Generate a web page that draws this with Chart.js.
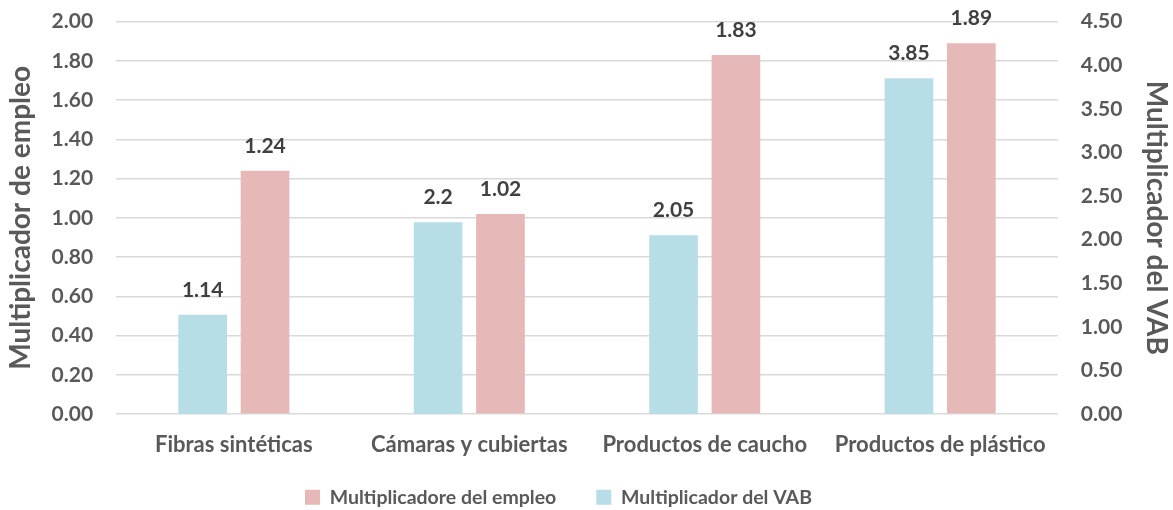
<!DOCTYPE html>
<html>
<head>
<meta charset="utf-8">
<script src="https://cdn.jsdelivr.net/npm/chart.js@4/dist/chart.umd.min.js"></script>
<style>
    html, body { margin: 0; padding: 0; background: #fff; }
    #wrap { width: 1173px; height: 510px; }
</style>
</head>
<body>
<div id="wrap"><canvas id="chart" width="1173" height="510"></canvas></div>
<script>
// Data
var categories = ["Fibras sintéticas", "Cámaras y cubiertas", "Productos de caucho", "Productos de plástico"];
var vabValues = [1.14, 2.2, 2.05, 3.85];
var empleoValues = [1.24, 1.02, 1.83, 1.89];

var fontFamily = "Lato, 'Open Sans', sans-serif";
var textColor = "#595959";

// Value labels above bars
var barLabels = {
    id: "barLabels",
    afterDatasetsDraw: function (chart) {
        var ctx = chart.ctx;
        ctx.save();
        ctx.font = "bold 21px " + fontFamily;
        ctx.fillStyle = "#404040";
        ctx.textAlign = "center";
        ctx.textBaseline = "alphabetic";
        chart.data.datasets.forEach(function (ds, i) {
            var meta = chart.getDatasetMeta(i);
            meta.data.forEach(function (bar, j) {
                ctx.fillText(String(ds.data[j]), bar.x, bar.y - 18);
            });
        });
        ctx.restore();
    }
};

// Legend keeps wide spacing between items but takes less height,
// and sits a bit left of centre like the original
var legendShrink = 28, legendLift = 21, legendLeft = 56;
var legendFit = {
    id: "legendFit",
    beforeUpdate: function (chart) {
        var lg = chart.legend;
        if (lg && !lg._patched) {
            var origFit = lg.fit, origDraw = lg.draw;
            lg.fit = function () {
                origFit.call(this);
                this.height -= legendShrink;
            };
            lg.draw = function () {
                var top = this.top, h = this.height, left = this.left, w = this.width;
                this.top = top - legendLift;
                this.height = h + legendLift;
                this.left = left - legendLeft;
                this.width = w + legendLeft;
                origDraw.call(this);
                this.top = top;
                this.height = h;
                this.left = left;
                this.width = w;
            };
            lg._patched = true;
        }
    }
};

var ctx = document.getElementById("chart").getContext("2d");
var myChart = new Chart(ctx, {
    type: "bar",
    data: {
        labels: categories,
        datasets: [{
                label: "Multiplicador del VAB",
                data: vabValues,
                backgroundColor: "#b7dde7",
                yAxisID: "y1"
            },
            {
                label: "Multiplicadore del empleo",
                data: empleoValues,
                backgroundColor: "#e6b8b7",
                yAxisID: "y"
            }
        ]
    },
    options: {
        responsive: false,
        animation: false,
        categoryPercentage: 0.53,
        barPercentage: 0.78,
        layout: { padding: 0 },
        plugins: {
            tooltip: { enabled: false },
            legend: {
                position: "bottom",
                reverse: true,
                labels: {
                    color: textColor,
                    font: { family: fontFamily, size: 19.5, weight: "bold" },
                    boxWidth: 15,
                    boxHeight: 15,
                    padding: 40
                }
            }
        },
        scales: {
            x: {
                grid: { display: false },
                border: { display: false },
                ticks: {
                    color: textColor,
                    font: { family: fontFamily, size: 22, weight: "bold" },
                    padding: 10
                }
            },
            y: {
                position: "left",
                min: 0,
                max: 2,
                border: { display: false },
                grid: { color: "#d9d9d9", lineWidth: 1.5, drawTicks: true, tickLength: 14, tickColor: "rgba(0,0,0,0)" },
                ticks: {
                    stepSize: 0.2,
                    color: textColor,
                    font: { family: fontFamily, size: 21, weight: "bold" },
                    padding: 9,
                    callback: function (v) { return v.toFixed(2); }
                },
                title: {
                    display: true,
                    text: "Multiplicador de empleo",
                    color: textColor,
                    padding: { top: 4, bottom: 5 },
                    font: { family: fontFamily, size: 28, weight: "bold" }
                }
            },
            y1: {
                position: "right",
                min: 0,
                max: 4.5,
                border: { display: false },
                grid: { display: false, drawTicks: true, tickLength: 14 },
                ticks: {
                    stepSize: 0.5,
                    color: textColor,
                    font: { family: fontFamily, size: 21, weight: "bold" },
                    padding: 9,
                    callback: function (v) { return v.toFixed(2); }
                },
                title: {
                    display: true,
                    text: "Multiplicador del VAB",
                    color: textColor,
                    padding: { top: 0, bottom: 8 },
                    font: { family: fontFamily, size: 28, weight: "bold" }
                }
            }
        }
    },
    plugins: [barLabels, legendFit]
});
</script>
</body>
</html>
